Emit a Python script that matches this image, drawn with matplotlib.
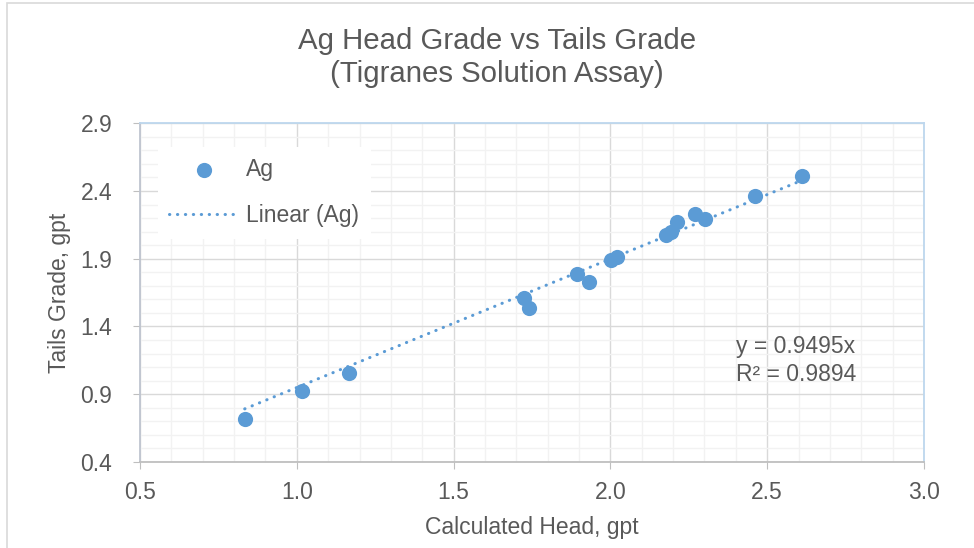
import matplotlib
matplotlib.use('Agg')
import matplotlib.pyplot as plt
from matplotlib.patches import Rectangle
from matplotlib.ticker import MultipleLocator
import numpy as np

plt.rcParams['font.family'] = ['Liberation Sans', 'DejaVu Sans']

# 数据
head = [0.834, 1.016, 1.166, 1.723, 1.742, 1.892, 1.933, 2.003, 2.022,
        2.178, 2.194, 2.213, 2.271, 2.303, 2.462, 2.611]
tails = [0.718, 0.925, 1.058, 1.613, 1.539, 1.791, 1.731, 1.894, 1.916,
         2.072, 2.094, 2.168, 2.234, 2.197, 2.360, 2.508]
slope = 0.9495
r2 = 0.9894
xticks = [0.5, 1.0, 1.5, 2.0, 2.5, 3.0]
yticks = [0.4, 0.9, 1.4, 1.9, 2.4, 2.9]

TXT = '#595959'
BLUE = '#5b9bd5'
FS = 16.5

fig = plt.figure(figsize=(9.74, 5.48), dpi=100)
fig.patches.append(Rectangle((0.007, -0.01), 1.2, 1.005, transform=fig.transFigure,
                             fill=False, edgecolor='#d9d9d9', linewidth=1.2))
ax = fig.add_axes([0.1437, 0.157, 0.8050, 0.618])

ax.scatter(head, tails, s=120, color=BLUE, zorder=3, label='Ag', linewidths=0)
xs = np.array([min(head), max(head)])
ax.plot(xs, slope * xs, linestyle=(0, (0.1, 2.5)), color=BLUE, linewidth=2.2,
        dash_capstyle='round', zorder=2, label='Linear (Ag)')

ax.set_xlim(0.5, 3.0)
ax.set_ylim(0.4, 2.9)
ax.set_xticks(xticks)
ax.set_yticks(yticks)
ax.set_xticklabels([f"{v:.1f}" for v in xticks])
ax.set_yticklabels([f"{v:.1f}" for v in yticks])
ax.xaxis.set_minor_locator(MultipleLocator(0.1))
ax.yaxis.set_minor_locator(MultipleLocator(0.1))
ax.grid(which='minor', color='#f2f2f2', linewidth=1.0, zorder=0)
ax.grid(which='major', color='#d9d9d9', linewidth=1.0, zorder=0)
ax.set_axisbelow(True)
ax.tick_params(which='minor', length=0)
ax.tick_params(which='major', length=5, color='#bfbfbf', labelsize=FS,
               labelcolor=TXT)
ax.tick_params(axis='x', pad=9)
ax.tick_params(axis='y', pad=15)

ax.spines['left'].set_color('#bfc5d0')
ax.spines['bottom'].set_color('#bfbfbf')
ax.spines['top'].set_color('#bdd7ee')
ax.spines['right'].set_color('#bdd7ee')
for s in ax.spines.values():
    s.set_linewidth(1.3)

ax.set_xlabel("Calculated Head, gpt", fontsize=FS, color=TXT, labelpad=8)
ax.set_ylabel("Tails Grade, gpt", fontsize=FS, color=TXT, labelpad=7)
fig.text(0.51, 0.895, "Ag Head Grade vs Tails Grade\n(Tigranes Solution Assay)",
         ha='center', va='center', fontsize=21.2, color=TXT, linespacing=1.25)

ax.text(2.40, 1.15, f"y = {slope}x\nR² = {r2}", fontsize=FS, color=TXT,
        va='center', ha='left', linespacing=1.3)

leg = ax.legend(loc='upper left', bbox_to_anchor=(0.023, 0.93), fontsize=FS,
                frameon=True, fancybox=False, edgecolor='none', framealpha=1,
                handlelength=3.0, handletextpad=0.35, labelspacing=1.0,
                borderpad=0.5, borderaxespad=0, markerscale=1.0)
for t in leg.get_texts():
    t.set_color(TXT)

fig.savefig('out.png', dpi=100, facecolor='white')
